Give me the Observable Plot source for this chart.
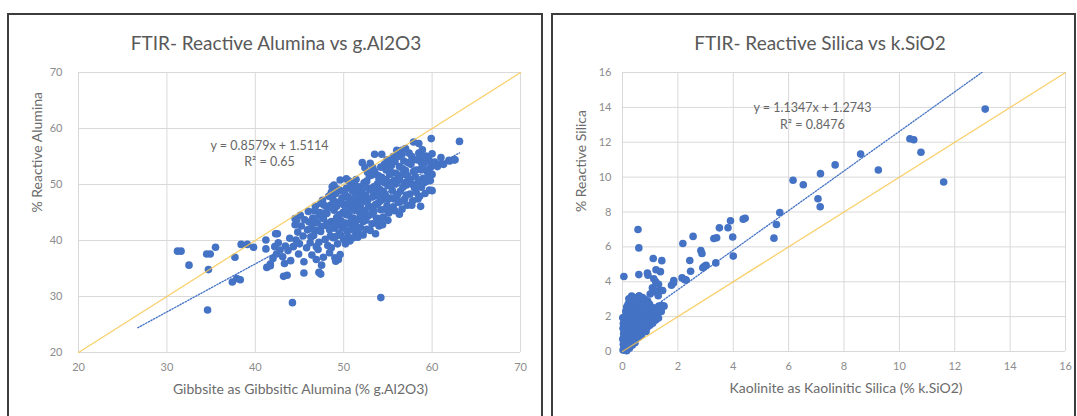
<!DOCTYPE html>
<html>
<head>
<meta charset="utf-8">
<script src="https://cdn.jsdelivr.net/npm/d3@7"></script>
<script src="https://cdn.jsdelivr.net/npm/@observablehq/plot@0.6"></script>
<style>
  html, body { margin: 0; padding: 0; background: #fff; }
  body { width: 1077px; height: 416px; overflow: hidden; position: relative; font-family: Lato, "Open Sans", sans-serif; }
  .panel { position: absolute; box-sizing: border-box; border: 2px solid #3d3d3d; background: #fff; }
  .title { position: absolute; text-align: center; color: #595959; font-size: 19px; line-height: 22px; white-space: nowrap; }
  .chart { position: absolute; top: 0; }
</style>
</head>
<body>
<div class="panel" style="left:7px;top:13px;width:536px;height:420px;"></div>
<div class="panel" style="left:551px;top:13px;width:525px;height:420px;"></div>
<div class="title" id="t1" style="left:76px;top:32px;width:400px;"></div>
<div class="title" id="t2" style="left:620px;top:32px;width:400px;"></div>
<div class="chart" id="c1" style="left:0px;"></div>
<div class="chart" id="c2" style="left:545px;"></div>
<script>
// ---------- Chart 1 data ----------
const aluminaTitle = "FTIR- Reactive Alumina vs g.Al2O3";
const aluminaXLabel = "Gibbsite as Gibbsitic Alumina (% g.Al2O3)";
const aluminaYLabel = "% Reactive Alumina";
const aluminaTicks = [20, 30, 40, 50, 60, 70];
const aluminaSlope = 0.8579, aluminaIntercept = 1.5114, aluminaR2 = "0.65";
const aluminaTrendRange = [26.7, 63.1];
const aluminaPoints = [
  // outliers / low-end points
  [31.2,38.1],[31.6,38.1],[32.5,35.6],[34.5,37.6],[34.9,37.6],[35.5,38.8],[34.7,34.8],[34.6,27.6],
  [37.7,37.0],[37.4,32.6],[37.9,33.2],[38.3,33.0],[38.4,39.3],[39.1,39.3],[39.8,38.8],
  [41.2,40.1],[41.2,38.5],[42.5,41.2],[41.3,35.2],[41.7,35.8],[44.2,28.9],[54.2,29.8],
  [63.1,57.7],[59.9,58.2],[62.5,54.4],[61.9,54.3],[58.7,46.1],[52.1,53.9],[53.5,55.4],[54.3,55.4],
  [49.6,50.8],[50.3,51.0],[48.7,49.6],[44.5,43.9],[43.2,33.6],[43.6,33.8],[45.5,34.2],[47.2,34.3],[47.4,34.0],
  [49.1,36.3],[49.4,36.6],[47.7,37.0],[51.5,41.2],[51.6,40.6],[41.7,35.5],[42.3,41.2],
  [60.0,48.9],[59.8,50.7],[57.9,57.6],[58.5,57.3],[56.6,56.1],[56.0,56.1],[55.1,54.0],[61.0,53.7],
  // x 42-44
  [42.0,36.8],[42.4,37.6],[42.8,38.3],[43.1,37.1],[43.4,39.0],[43.7,38.2],[42.6,39.6],[43.9,40.4],[44.0,36.4],[43.3,35.9],[42.2,38.9],
  // x 44-46
  [44.3,38.9],[44.6,40.1],[44.8,41.5],[45.0,39.4],[45.2,42.6],[45.4,40.8],[45.6,43.7],[45.8,38.7],[44.5,42.8],[45.1,44.5],[45.9,41.9],[44.9,37.6],[45.5,36.2],[46.0,45.2],[44.7,43.7],
  // x 46-48
  [46.2,39.6],[46.3,42.1],[46.5,44.0],[46.6,40.9],[46.8,46.1],[47.0,43.2],[47.1,38.4],[47.3,45.0],[47.4,41.6],[47.6,47.2],[47.7,43.9],[47.9,40.2],[46.4,37.4],[46.9,36.6],[47.5,35.6],[47.8,46.3],[46.1,43.3],[47.2,39.7],[46.7,45.3],[48.0,42.7],
  [46.3,40.6],[46.6,43.1],[46.9,41.8],[47.2,44.4],[47.5,42.5],[47.8,44.9],[47.4,46.6],[46.9,38.9],
  // x 48-50
  [48.1,44.8],[48.2,39.1],[48.3,47.9],[48.4,41.9],[48.5,46.3],[48.6,43.4],[48.8,40.5],[48.9,45.4],[49.0,42.2],[49.1,48.4],[49.2,44.1],[49.3,39.4],[49.4,46.8],[49.5,41.3],[49.7,43.5],[49.8,47.6],[49.9,45.0],[50.0,40.2],[48.4,37.8],[49.0,36.9],[49.6,37.5],[48.9,49.9],[49.5,44.6],[48.2,45.9],[49.8,42.4],[48.6,48.6],
  [48.3,43.1],[48.5,40.8],[48.7,45.9],[48.9,42.9],[49.1,40.7],[49.2,46.1],[49.4,43.0],[49.6,48.9],[49.7,40.9],[49.9,46.5],[48.8,47.3],[49.3,49.2],[48.6,38.7],
  // x 50-52
  [50.1,46.2],[50.2,43.1],[50.3,49.3],[50.4,41.6],[50.5,47.7],[50.6,44.5],[50.7,39.9],[50.8,45.9],[50.9,42.7],[51.0,48.8],[51.1,44.0],[51.2,50.2],[51.3,46.6],[51.4,41.1],[51.5,43.6],[51.6,47.5],[51.7,45.2],[51.8,49.6],[51.9,42.3],[52.0,44.8],[50.2,48.1],[50.6,50.6],[51.1,40.5],[51.6,46.3],[50.4,45.0],[51.9,47.9],[50.8,43.3],[51.4,48.1],
  [50.1,42.2],[50.3,44.6],[50.5,40.6],[50.6,46.9],[50.8,49.5],[51.0,41.9],[51.2,45.4],[51.3,43.0],[51.5,49.0],[51.7,42.1],[51.9,45.9],[50.9,47.4],[50.2,39.4],[51.4,50.9],[51.8,44.0],
  // x 52-54
  [52.1,46.9],[52.2,43.4],[52.3,50.3],[52.4,45.3],[52.5,48.1],[52.6,42.0],[52.7,47.2],[52.8,44.4],[52.9,51.5],[53.0,46.0],[53.1,49.0],[53.2,43.0],[53.3,47.8],[53.4,45.2],[53.5,52.3],[53.6,48.6],[53.7,44.0],[53.8,50.1],[53.9,46.7],[54.0,42.6],[52.4,53.0],[53.0,53.8],[52.2,41.0],[53.6,41.2],[52.8,49.3],[53.3,45.9],[52.0,48.9],[53.9,48.0],
  [52.1,44.6],[52.3,47.9],[52.5,43.6],[52.6,50.6],[52.8,46.0],[53.0,41.8],[53.1,44.7],[53.2,51.7],[53.4,49.6],[53.6,46.4],[53.8,43.1],[53.9,51.6],[52.4,49.6],[53.3,53.0],[52.7,52.2],
  // x 54-56
  [54.1,49.1],[54.2,45.5],[54.3,51.3],[54.4,47.3],[54.5,44.2],[54.6,50.3],[54.7,48.2],[54.8,52.6],[54.9,46.2],[55.0,49.8],[55.1,44.9],[55.2,51.8],[55.3,47.6],[55.4,53.4],[55.5,48.9],[55.6,46.0],[55.7,50.7],[55.8,45.3],[55.9,52.0],[56.0,48.1],[54.4,42.8],[55.0,43.6],[54.9,54.4],[55.6,55.0],[54.2,53.1],[55.3,50.3],
  [54.1,47.0],[54.3,44.0],[54.5,48.8],[54.7,45.6],[54.8,50.9],[55.0,47.3],[55.2,45.3],[55.4,49.9],[55.5,52.1],[55.7,47.4],[55.9,50.2],[54.6,53.6],[55.8,54.1],[54.0,50.9],[55.1,53.1],
  // x 56-58
  [56.1,50.6],[56.2,46.8],[56.3,53.2],[56.4,48.8],[56.5,51.7],[56.6,45.6],[56.7,49.5],[56.8,54.2],[56.9,47.4],[57.0,52.5],[57.1,49.9],[57.2,46.3],[57.3,51.2],[57.4,55.6],[57.5,48.3],[57.6,53.6],[57.7,50.1],[57.8,47.1],[57.9,52.3],[58.0,49.4],[56.3,44.7],[57.0,56.4],[56.6,55.4],[57.7,55.0],
  [56.1,48.2],[56.3,51.0],[56.5,47.0],[56.7,52.8],[56.9,50.3],[57.1,48.1],[57.3,53.9],[57.5,50.9],[57.7,46.3],[57.9,54.4],[56.2,55.0],[57.2,51.6],
  // x 58-60
  [58.1,51.4],[58.2,48.6],[58.3,54.4],[58.4,50.3],[58.5,55.6],[58.6,47.9],[58.7,52.7],[58.8,49.5],[58.9,56.2],[59.0,51.1],[59.1,53.8],[59.2,48.4],[59.3,55.1],[59.4,50.6],[59.5,52.2],[59.6,54.6],[59.7,49.0],[59.8,53.0],[60.0,55.5],[60.0,51.8],
  [58.2,52.6],[58.4,47.4],[58.6,50.8],[58.8,53.9],[59.1,50.3],[59.3,52.6],[59.6,51.2],[59.9,53.9],[58.9,55.0],[58.3,49.6],
  // x 60-63
  [60.3,54.0],[60.6,53.2],[61.0,54.8],[61.3,53.6],[62.0,54.2],[62.6,54.4]
];

// ---------- Chart 2 data ----------
const silicaTitle = "FTIR- Reactive Silica vs k.SiO2";
const silicaXLabel = "Kaolinite as Kaolinitic Silica (% k.SiO2)";
const silicaYLabel = "% Reactive Silica";
const silicaTicks = [0, 2, 4, 6, 8, 10, 12, 14, 16];
const silicaSlope = 1.1347, silicaIntercept = 1.2743, silicaR2 = "0.8476";
const silicaTrendRange = [0, 12.98];
const silicaPoints = [
  // scattered points
  [13.1,13.9],[10.38,12.2],[10.52,12.14],[10.78,11.43],[11.6,9.72],[9.24,10.41],[8.6,11.32],[7.68,10.7],
  [7.15,10.2],[7.06,8.76],[7.14,8.3],[6.16,9.82],[6.53,9.56],[5.68,7.97],[5.56,7.28],[5.47,6.5],
  [4.36,7.59],[4.43,7.64],[3.9,7.5],[3.81,7.1],[3.5,7.09],[3.4,6.52],[3.3,6.48],[3.98,6.57],[4.0,5.47],[3.37,5.08],
  [2.96,4.88],[3.02,4.94],[2.9,4.8],[2.83,5.79],[2.87,5.62],[2.55,6.6],[2.43,5.22],[2.46,4.6],[2.18,6.19],
  [2.15,4.22],[2.25,4.12],[1.84,3.93],[1.77,3.8],[1.85,4.07],[2.3,4.1],[1.5,2.6],[1.19,2.01],
  [0.56,7.0],[0.59,5.94],[0.05,4.3],[0.59,4.41],[0.92,4.37],[1.11,5.33],[1.42,5.21],[1.21,4.69],[0.85,1.15],
  [1.13,4.17],[0.9,4.5],[1.43,2.64],[1.37,4.58],[1.3,3.85],[1.25,3.45],[1.08,3.65],[1.4,3.5],
  // dense cluster near origin
  [0.02,0.08],[0.03,0.42],[0.01,0.71],[0.04,1.02],[0.02,1.33],[0.03,1.61],[0.01,1.93],[0.05,0.25],[0.06,1.18],
  [0.11,0.22],[0.1,0.52],[0.12,0.83],[0.09,1.12],[0.11,1.41],[0.13,1.7],[0.1,2.02],[0.12,2.31],
  [0.19,0.31],[0.21,0.62],[0.2,0.93],[0.22,1.2],[0.18,1.52],[0.21,1.81],[0.19,2.1],[0.22,2.42],[0.2,2.71],[0.23,3.02],
  [0.29,0.48],[0.31,0.79],[0.3,1.1],[0.28,1.42],[0.32,1.71],[0.3,2.0],[0.29,2.32],[0.31,2.61],[0.3,2.9],[0.33,3.18],
  [0.39,0.6],[0.41,0.92],[0.4,1.21],[0.42,1.49],[0.38,1.8],[0.41,2.12],[0.4,2.4],[0.39,2.71],[0.42,3.02],
  [0.49,0.72],[0.51,1.01],[0.5,1.32],[0.52,1.62],[0.48,1.9],[0.5,2.21],[0.51,2.49],[0.49,2.8],[0.52,3.1],
  [0.59,0.83],[0.61,1.12],[0.6,1.41],[0.62,1.72],[0.58,2.02],[0.61,2.31],[0.6,2.6],[0.62,2.92],[0.6,3.2],
  [0.69,0.98],[0.71,1.29],[0.7,1.61],[0.72,1.9],[0.68,2.21],[0.71,2.5],[0.7,2.81],[0.72,3.1],
  [0.79,1.18],[0.81,1.52],[0.8,1.82],[0.82,2.1],[0.78,2.42],[0.81,2.7],[0.8,3.0],
  [0.89,1.38],[0.91,1.7],[0.9,2.02],[0.92,2.3],[0.88,2.61],[0.91,2.9],
  [0.99,1.5],[1.01,1.82],[1.0,2.1],[1.02,2.42],[0.98,2.7],[1.0,3.3],
  [1.09,1.62],[1.11,1.9],[1.1,2.21],[1.12,2.5],[1.1,3.6],
  [1.2,1.8],[1.21,2.1],[1.19,2.4],[1.22,3.4],[1.2,4.0],
  [1.3,1.92],[1.31,2.6],[1.29,3.2],[1.4,2.3],[1.45,3.5],
  [0.15,0.05],[0.25,0.18],[0.35,0.36],[0.45,0.5],[0.55,0.95],[0.65,1.25],[0.75,1.45],[0.85,1.6],
  [0.15,2.55],[0.26,2.85],[0.36,3.12],[0.46,2.96],[0.56,2.65],[0.66,3.05],[0.75,2.6]
];

document.getElementById("t1").textContent = aluminaTitle;
document.getElementById("t2").textContent = silicaTitle;

const blue = "#4472c4";
const gold = "#f7c64a";
const tickColor = "#8c8c8c";
const labelColor = "#6b6b6b";

function makeChart(cfg) {
  const [x0, x1] = [cfg.ticks[0], cfg.ticks[cfg.ticks.length - 1]];
  const trend = cfg.trendRange.map(x => ({x, y: cfg.slope * x + cfg.intercept}));
  const diag = [{v: x0}, {v: x1}];
  const eq = `y = ${cfg.slope}x + ${cfg.intercept}\nR² = ${cfg.r2}`;
  return Plot.plot({
    width: cfg.width, height: 416,
    marginLeft: cfg.ml, marginRight: cfg.mr, marginTop: 72, marginBottom: cfg.mb,
    style: {fontFamily: "Lato, 'Open Sans', sans-serif", background: "transparent", overflow: "visible"},
    x: {domain: [x0, x1], ticks: cfg.ticks},
    y: {domain: [x0, x1], ticks: cfg.ticks},
    marks: [
      Plot.gridX(cfg.ticks, {stroke: "#d9d9d9", strokeOpacity: 1, strokeWidth: 1}),
      Plot.gridY(cfg.ticks, {stroke: "#d9d9d9", strokeOpacity: 1, strokeWidth: 1}),
      Plot.axisX(cfg.ticks, {tickSize: 0, tickPadding: 11, fontSize: 11, fill: tickColor, label: null}),
      Plot.axisY(cfg.ticks, {tickSize: 0, tickPadding: cfg.yPad, fontSize: 11, fill: tickColor, label: null}),
      Plot.dot(cfg.points, {x: d => d[0], y: d => d[1], r: 3.8, fill: blue, stroke: "none"}),
      Plot.line(trend, {x: "x", y: "y", stroke: blue, strokeWidth: 1.3, strokeDasharray: "1.4,1.6", clip: true}),
      Plot.line(diag, {x: "v", y: "v", stroke: gold, strokeWidth: 1.3, strokeOpacity: 0.8}),
      Plot.text([eq], {x: cfg.eqX, y: cfg.eqY, text: d => d, fontSize: 12.5, fill: "#666", lineHeight: 1.35, lineAnchor: "middle"}),
      Plot.text([cfg.xLabel], {frameAnchor: "bottom", dy: 41, text: d => d, fontSize: 14, fill: labelColor, dx: cfg.xdx}),
      Plot.text([cfg.yLabel], {frameAnchor: "left", dx: -41, rotate: -90, text: d => d, fontSize: 14, fill: labelColor})
    ]
  });
}

document.getElementById("c1").appendChild(makeChart({
  width: 545, ml: 78, mr: 25, mb: 64, yPad: 16, xdx: 1,
  ticks: aluminaTicks, points: aluminaPoints, slope: aluminaSlope, intercept: aluminaIntercept,
  r2: aluminaR2, trendRange: aluminaTrendRange, eqX: 41.6, eqY: 55.7,
  xLabel: aluminaXLabel, yLabel: aluminaYLabel
}));
document.getElementById("c2").appendChild(makeChart({
  width: 532, ml: 77, mr: 12, mb: 65, yPad: 11, xdx: 2,
  ticks: silicaTicks, points: silicaPoints, slope: silicaSlope, intercept: silicaIntercept,
  r2: silicaR2, trendRange: silicaTrendRange, eqX: 6.86, eqY: 13.56,
  xLabel: silicaXLabel, yLabel: silicaYLabel
}));
</script>
</body>
</html>
